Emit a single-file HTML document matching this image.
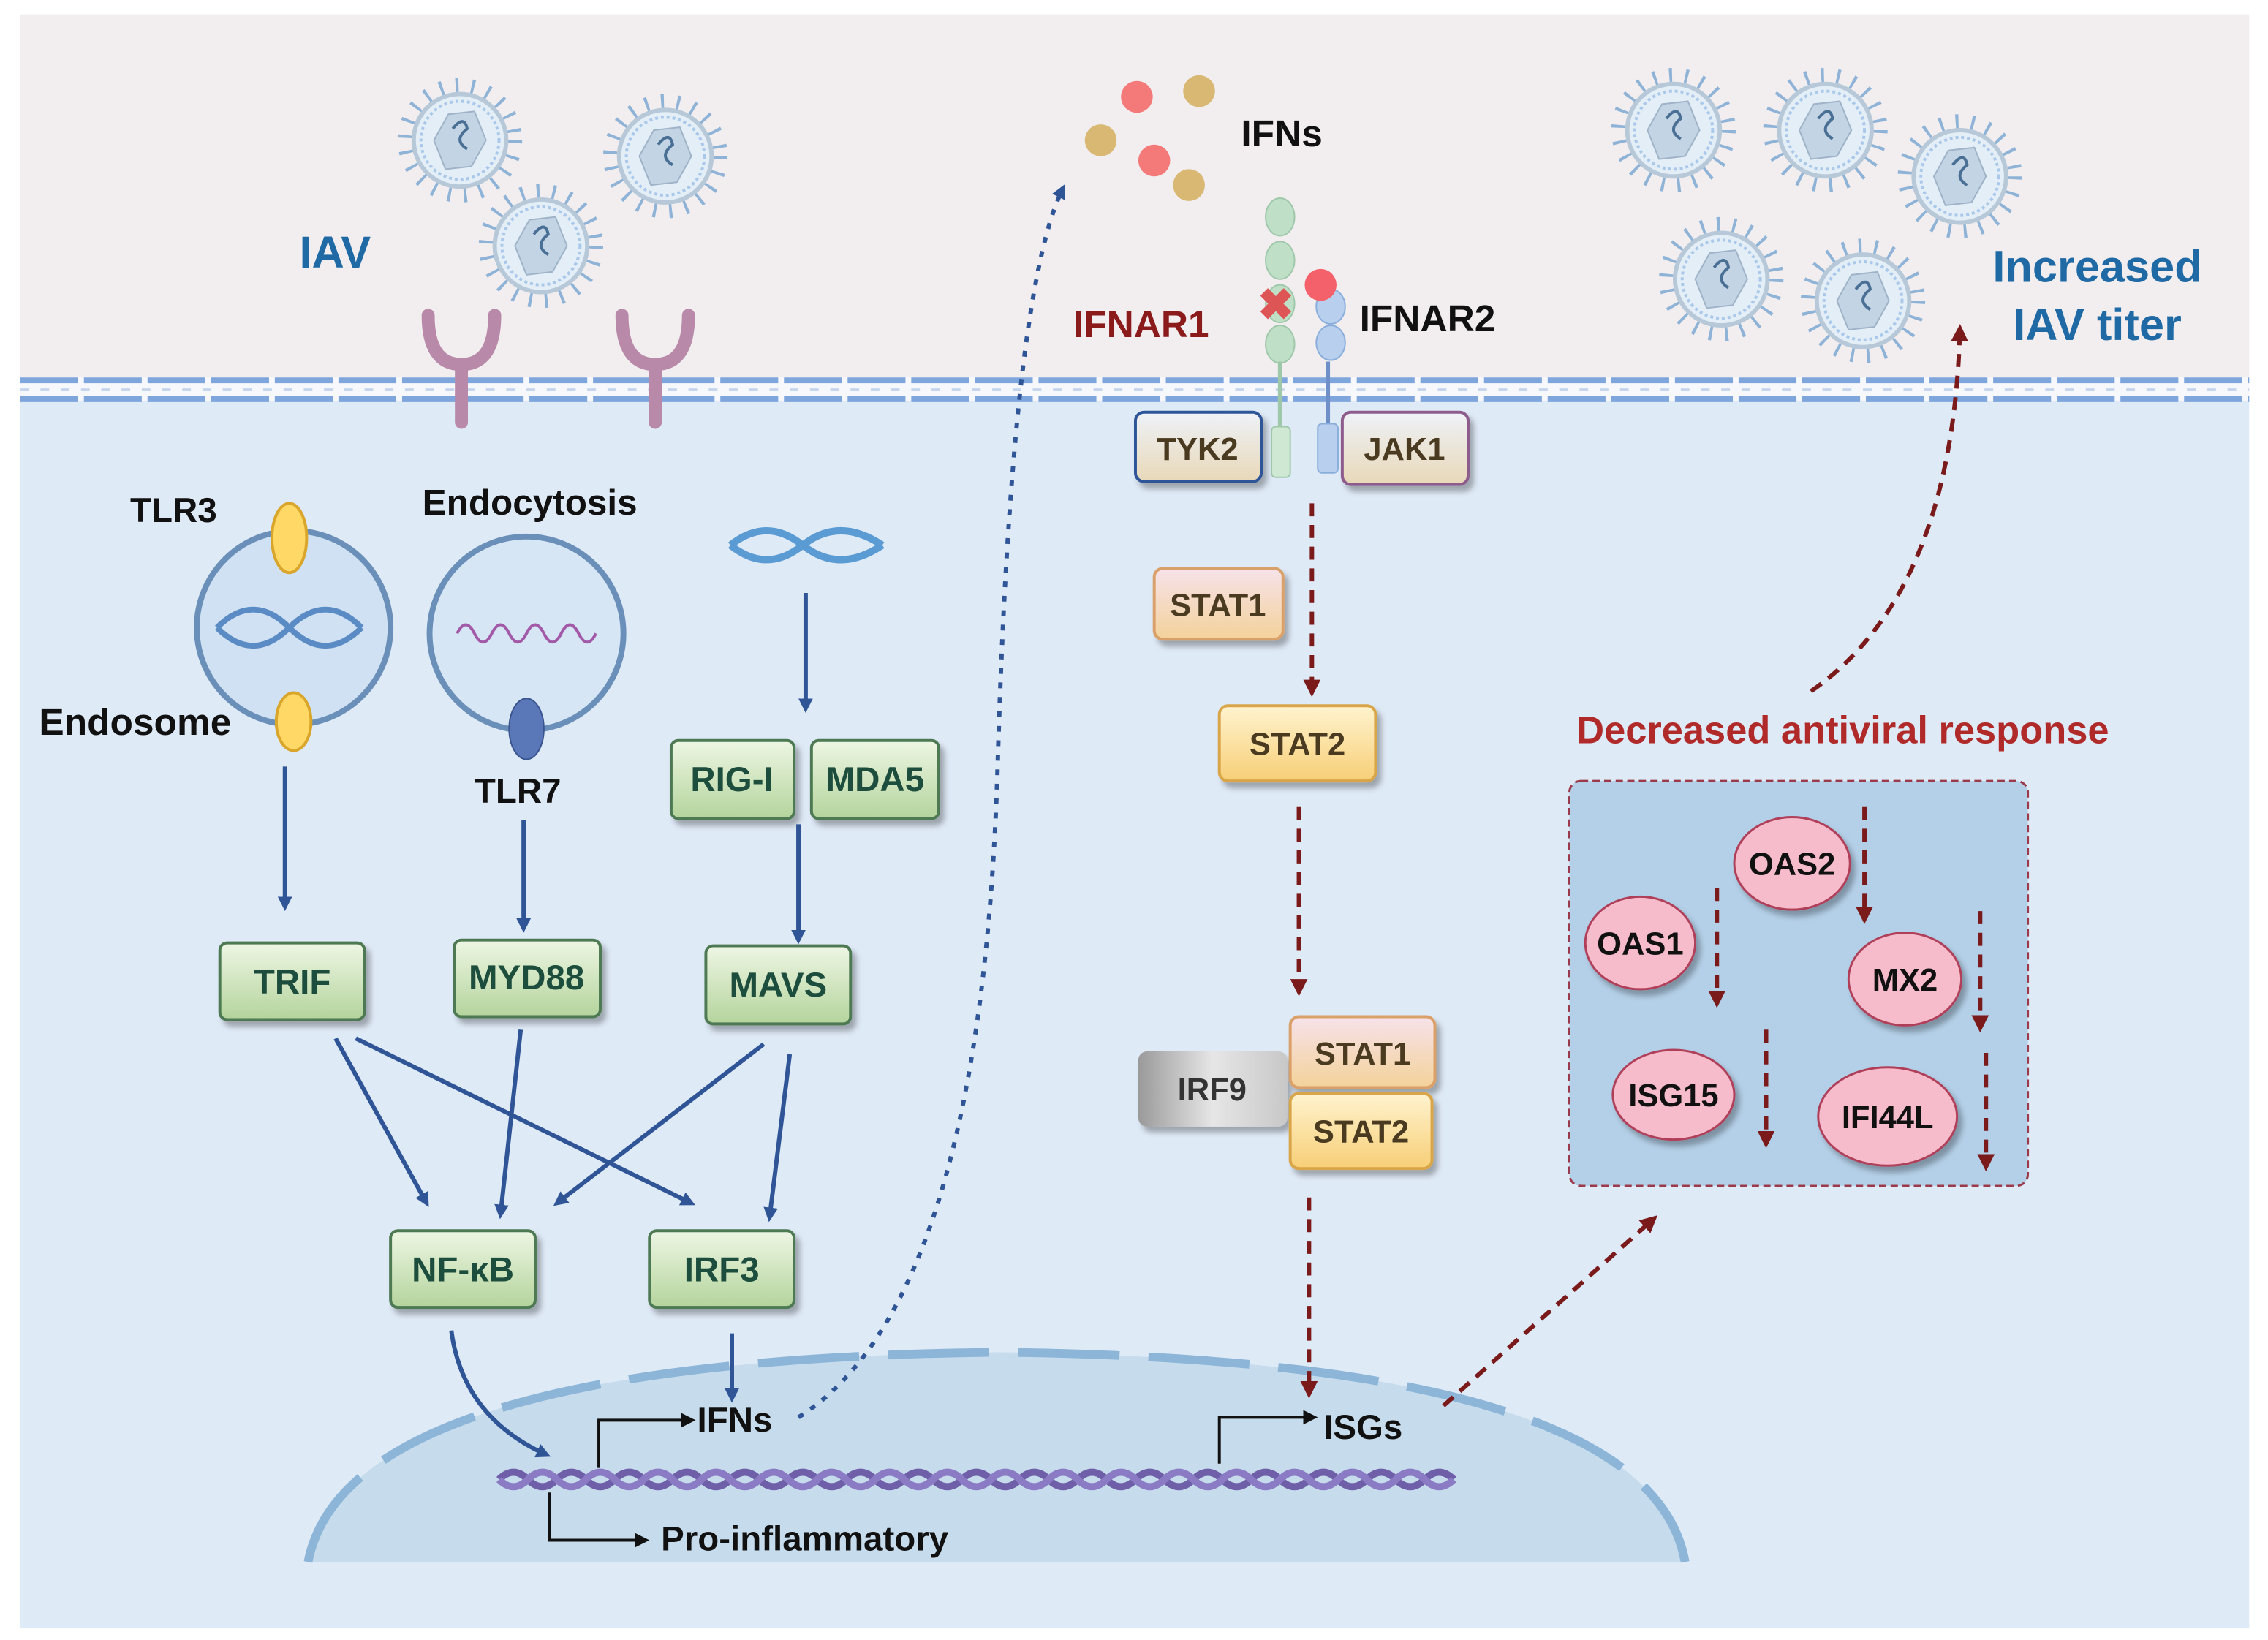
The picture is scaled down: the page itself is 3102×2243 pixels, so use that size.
<!DOCTYPE html>
<html><head><meta charset="utf-8"><style>
html,body{margin:0;padding:0;background:#fff}
svg{display:block}
text{font-family:"Liberation Sans",Arial,sans-serif;font-weight:bold}
</style></head><body>
<svg width="3102" height="2243" viewBox="0 0 1568 1134" preserveAspectRatio="none" xmlns="http://www.w3.org/2000/svg">
<defs>
<linearGradient id="g" x1="0" y1="0" x2="0" y2="1"><stop offset="0" stop-color="#eef6e4"/><stop offset="1" stop-color="#b4d49c"/></linearGradient>
<linearGradient id="y" x1="0" y1="0" x2="0" y2="1"><stop offset="0" stop-color="#fff3cf"/><stop offset="1" stop-color="#f7cf77"/></linearGradient>
<linearGradient id="p" x1="0" y1="0" x2="0" y2="1"><stop offset="0" stop-color="#f6e2ea"/><stop offset="1" stop-color="#f4d29a"/></linearGradient>
<linearGradient id="b" x1="0" y1="0" x2="0" y2="1"><stop offset="0" stop-color="#eef2f8"/><stop offset="1" stop-color="#e8d8b8"/></linearGradient>
<linearGradient id="gr" x1="0" y1="0" x2="1" y2="0"><stop offset="0" stop-color="#9a9a9a"/><stop offset="0.5" stop-color="#e6e6e6"/><stop offset="1" stop-color="#c8c8c8"/></linearGradient>
<filter id="sh" x="-10%" y="-10%" width="130%" height="140%"><feDropShadow dx="3" dy="4" stdDeviation="2" flood-color="#000" flood-opacity="0.3"/></filter>
<marker id="ab" markerWidth="10" markerHeight="10" refX="7" refY="5" orient="auto" markerUnits="userSpaceOnUse"><path d="M0,0 L10,5 L0,10 Z" fill="#2f5597"/></marker>
<marker id="ar" markerWidth="12" markerHeight="12" refX="8" refY="6" orient="auto" markerUnits="userSpaceOnUse"><path d="M0,0 L12,6 L0,12 Z" fill="#7b1a1a"/></marker>
<marker id="ak" markerWidth="10" markerHeight="10" refX="7" refY="5" orient="auto" markerUnits="userSpaceOnUse"><path d="M0,0 L10,5 L0,10 Z" fill="#111"/></marker>
<g id="v"><circle r="38" fill="none" stroke="#8fb3d6" stroke-width="10" stroke-dasharray="2 9"/><circle r="32" fill="#e3eef7" stroke="#b7c9d8" stroke-width="3"/><circle r="27" fill="none" stroke="#a9c8ea" stroke-width="2" stroke-dasharray="2 2"/><path d="M-8,-18 L10,-20 L18,0 L8,18 L-10,20 L-18,0 Z" fill="#c3d4e4" stroke="#9fb3c8"/><path d="M-5,-8 q8,-10 10,0 q-10,8 0,14" fill="none" stroke="#4a6f95" stroke-width="2"/></g>
</defs>
<rect x="14" y="10" width="1541" height="258" fill="#f2eef0"/>
<rect x="14" y="268" width="1541" height="858" fill="#dfeaf7"/>
<rect x="14" y="261" width="1541" height="16" fill="#f6f8fc"/>
<line x1="14" y1="263" x2="1555" y2="263" stroke="#7fa6dc" stroke-width="4" stroke-dasharray="40 4"/>
<line x1="14" y1="276" x2="1555" y2="276" stroke="#7fa6dc" stroke-width="4" stroke-dasharray="40 4"/>
<line x1="14" y1="269.5" x2="1555" y2="269.5" stroke="#c5d6ec" stroke-width="2" stroke-dasharray="6 8"/>
<path d="M213,1080 Q240,940 690,935 Q1140,940 1165,1080 Z" fill="#c6dced"/>
<path d="M213,1080 Q240,940 690,935 Q1140,940 1165,1080" fill="none" stroke="#8cb5d8" stroke-width="6" stroke-dasharray="70 20"/>
<use href="#v" x="318" y="97"/><use href="#v" x="460" y="108"/><use href="#v" x="374" y="170"/>
<use href="#v" x="1157" y="90"/><use href="#v" x="1262" y="90"/><use href="#v" x="1355" y="122"/><use href="#v" x="1190" y="193"/><use href="#v" x="1288" y="208"/>
<text x="207" y="185" font-size="31" fill="#1f6aa5">IAV</text>
<text x="1450" y="195" font-size="31" fill="#1f6aa5" text-anchor="middle">Increased</text>
<text x="1450" y="235" font-size="31" fill="#1f6aa5" text-anchor="middle">IAV titer</text>
<g fill="none" stroke="#b889a8" stroke-width="9" stroke-linecap="round"><path d="M296,218 Q296,252 319,252 Q342,252 342,218"/><line x1="319" y1="252" x2="319" y2="292"/><path d="M430,218 Q430,252 453,252 Q476,252 476,218"/><line x1="453" y1="252" x2="453" y2="292"/></g>
<circle cx="786" cy="67" r="11" fill="#f47a7a"/><circle cx="829" cy="63" r="11" fill="#d8b873"/><circle cx="761" cy="97" r="11" fill="#d8b873"/><circle cx="798" cy="111" r="11" fill="#f47a7a"/><circle cx="822" cy="128" r="11" fill="#d8b873"/>
<text x="858" y="101" font-size="26" fill="#111">IFNs</text>
<g fill="#bfe0c7" stroke="#9fc8aa"><ellipse cx="885" cy="150" rx="10" ry="13"/><ellipse cx="885" cy="180" rx="10" ry="13"/><ellipse cx="885" cy="210" rx="10" ry="13"/><ellipse cx="885" cy="238" rx="10" ry="13"/></g>
<line x1="885" y1="250" x2="885" y2="300" stroke="#9fc8aa" stroke-width="3"/><rect x="879" y="295" width="13" height="35" rx="3" fill="#cfe8d4" stroke="#9fc8aa"/>
<g fill="#b8d0ee" stroke="#8aaedc"><ellipse cx="920" cy="212" rx="10" ry="12"/><ellipse cx="920" cy="237" rx="10" ry="12"/></g>
<circle cx="913" cy="197" r="11" fill="#f4616b"/>
<line x1="918" y1="250" x2="918" y2="300" stroke="#6f8fc8" stroke-width="3"/><rect x="911" y="293" width="14" height="34" rx="3" fill="#b8d0ee" stroke="#8aaedc"/>
<text x="882" y="221" font-size="30" fill="#d55" text-anchor="middle">✖</text>
<text x="742" y="233" font-size="26" fill="#8b1a1a">IFNAR1</text>
<text x="940" y="229" font-size="26" fill="#111">IFNAR2</text>
<g filter="url(#sh)">
<rect x="785" y="285" width="87" height="48" rx="6" fill="url(#b)" stroke="#2f5597" stroke-width="2"/>
<rect x="928" y="285" width="87" height="50" rx="6" fill="url(#b)" stroke="#8d5b8d" stroke-width="2"/></g>
<text x="828" y="318" font-size="22" fill="#4a3a20" text-anchor="middle">TYK2</text>
<text x="971" y="318" font-size="22" fill="#4a3a20" text-anchor="middle">JAK1</text>
<circle cx="203" cy="434" r="67" fill="#cfe1f2" stroke="#6a8fb8" stroke-width="4"/>
<ellipse cx="200" cy="372" rx="12" ry="24" fill="#ffd866" stroke="#d9a52b" stroke-width="2"/><ellipse cx="203" cy="499" rx="12" ry="20" fill="#ffd866" stroke="#d9a52b" stroke-width="2"/>
<path d="M150,434 q25,-25 50,0 t50,0 M150,434 q25,25 50,0 t50,0" fill="none" stroke="#5b8bc4" stroke-width="4"/>
<circle cx="364" cy="438" r="67" fill="#d6e6f4" stroke="#6a8fb8" stroke-width="4"/>
<path d="M316,438 q6,-12 12,0 t12,0 t12,0 t12,0 t12,0 t12,0 t12,0 t12,0" fill="none" stroke="#a25aa8" stroke-width="2"/>
<ellipse cx="364" cy="504" rx="12" ry="21" fill="#5a77b8" stroke="#3a5590"/>
<path d="M505,377 q25,-20 50,0 t55,0 M505,377 q25,20 50,0 t55,0" fill="none" stroke="#5b9bd4" stroke-width="5"/>
<text x="90" y="361" font-size="24" fill="#111">TLR3</text>
<text x="292" y="356" font-size="25" fill="#111">Endocytosis</text>
<text x="27" y="508" font-size="26" fill="#111">Endosome</text>
<text x="328" y="555" font-size="24" fill="#111">TLR7</text>
<g stroke="#4e7a52" stroke-width="2" fill="url(#g)" filter="url(#sh)">
<rect x="152" y="652" width="100" height="53" rx="5"/><rect x="314" y="650" width="101" height="53" rx="5"/><rect x="488" y="654" width="100" height="54" rx="5"/>
<rect x="464" y="512" width="85" height="54" rx="5"/><rect x="561" y="512" width="88" height="54" rx="5"/>
<rect x="270" y="851" width="100" height="53" rx="5"/><rect x="449" y="851" width="100" height="53" rx="5"/></g>
<g font-size="24" fill="#1d4d3c" text-anchor="middle">
<text x="202" y="687">TRIF</text><text x="364" y="684">MYD88</text><text x="538" y="689">MAVS</text>
<text x="506" y="547">RIG-I</text><text x="605" y="547">MDA5</text><text x="320" y="886">NF-κB</text><text x="499" y="886">IRF3</text></g>
<g stroke="#2f5597" stroke-width="3" fill="none" marker-end="url(#ab)">
<line x1="197" y1="530" x2="197" y2="627"/><line x1="362" y1="567" x2="362" y2="642"/><line x1="557" y1="410" x2="557" y2="490"/><line x1="552" y1="570" x2="552" y2="650"/>
<line x1="232" y1="718" x2="295" y2="832"/><line x1="246" y1="718" x2="478" y2="832"/><line x1="360" y1="712" x2="346" y2="840"/>
<line x1="528" y1="722" x2="385" y2="832"/><line x1="546" y1="729" x2="532" y2="842"/>
<path d="M312,920 Q320,980 378,1006"/><line x1="506" y1="922" x2="506" y2="967"/></g>
<path d="M552,980 Q680,900 690,520 Q700,200 735,130" fill="none" stroke="#2f5597" stroke-width="3" stroke-dasharray="4 6" marker-end="url(#ab)"/>
<path d="M345,1023 q10,-10 20,0 t20,0 t20,0 t20,0 t20,0 t20,0 t20,0 t20,0 t20,0 t20,0 t20,0 t20,0 t20,0 t20,0 t20,0 t20,0 t20,0 t20,0 t20,0 t20,0 t20,0 t20,0 t20,0 t20,0 t20,0 t20,0 t20,0 t20,0 t20,0 t20,0 t20,0 t20,0 t20,0" fill="none" stroke="#6f5ea8" stroke-width="5"/>
<path d="M345,1023 q10,10 20,0 t20,0 t20,0 t20,0 t20,0 t20,0 t20,0 t20,0 t20,0 t20,0 t20,0 t20,0 t20,0 t20,0 t20,0 t20,0 t20,0 t20,0 t20,0 t20,0 t20,0 t20,0 t20,0 t20,0 t20,0 t20,0 t20,0 t20,0 t20,0 t20,0 t20,0 t20,0 t20,0" fill="none" stroke="#8a7bc4" stroke-width="5"/>
<g stroke="#111" stroke-width="2" fill="none" marker-end="url(#ak)">
<path d="M414,1015 V982 H478"/><path d="M380,1032 V1065 H446"/><path d="M843,1012 V980 H908"/></g>
<text x="482" y="990" font-size="24" fill="#111">IFNs</text>
<text x="457" y="1072" font-size="24" fill="#111">Pro-inflammatory</text>
<text x="915" y="995" font-size="24" fill="#111">ISGs</text>
<g filter="url(#sh)">
<rect x="798" y="393" width="89" height="49" rx="6" fill="url(#p)" stroke="#d9a06a" stroke-width="2"/>
<rect x="843" y="488" width="108" height="52" rx="6" fill="url(#y)" stroke="#d9a54a" stroke-width="2"/>
<rect x="787" y="727" width="103" height="52" rx="6" fill="url(#gr)"/>
<rect x="892" y="703" width="100" height="49" rx="6" fill="url(#p)" stroke="#d9a06a" stroke-width="2"/>
<rect x="892" y="756" width="98" height="52" rx="6" fill="url(#y)" stroke="#d9a54a" stroke-width="2"/></g>
<text x="842" y="426" font-size="22" fill="#4a3a20" text-anchor="middle">STAT1</text>
<text x="897" y="522" font-size="22" fill="#4a3a20" text-anchor="middle">STAT2</text>
<text x="838" y="761" font-size="22" fill="#333" text-anchor="middle">IRF9</text>
<text x="942" y="736" font-size="22" fill="#4a3a20" text-anchor="middle">STAT1</text>
<text x="941" y="790" font-size="22" fill="#4a3a20" text-anchor="middle">STAT2</text>
<g stroke="#7b1a1a" stroke-width="3" fill="none" stroke-dasharray="9 6" marker-end="url(#ar)">
<line x1="907" y1="348" x2="907" y2="478"/><line x1="898" y1="558" x2="898" y2="685"/><line x1="905" y1="828" x2="905" y2="963"/>
<line x1="998" y1="972" x2="1143" y2="843"/><path d="M1252,478 Q1350,410 1355,228"/>
<line x1="1187" y1="614" x2="1187" y2="693"/><line x1="1289" y1="558" x2="1289" y2="635"/><line x1="1369" y1="630" x2="1369" y2="710"/><line x1="1221" y1="712" x2="1221" y2="790"/><line x1="1373" y1="728" x2="1373" y2="806"/></g>
<text x="1274" y="514" font-size="26.5" fill="#b02a2a" text-anchor="middle">Decreased antiviral response</text>
<rect x="1085" y="540" width="317" height="280" rx="8" fill="#b4d0e8" stroke="#9b3a4a" stroke-width="1.5" stroke-dasharray="5 3"/>
<g fill="#f6bccb" stroke="#b0405a" stroke-width="1.5" filter="url(#sh)">
<ellipse cx="1239" cy="597" rx="40" ry="32"/><ellipse cx="1134" cy="652" rx="38" ry="32"/><ellipse cx="1317" cy="677" rx="39" ry="32"/><ellipse cx="1157" cy="757" rx="42" ry="31"/><ellipse cx="1305" cy="772" rx="48" ry="34"/></g>
<g stroke="#7b1a1a" stroke-width="3" fill="none" stroke-dasharray="9 6" marker-end="url(#ar)">
<line x1="1187" y1="614" x2="1187" y2="693"/><line x1="1289" y1="558" x2="1289" y2="635"/><line x1="1369" y1="630" x2="1369" y2="710"/><line x1="1221" y1="712" x2="1221" y2="790"/><line x1="1373" y1="728" x2="1373" y2="806"/></g>
<g font-size="22" fill="#111" text-anchor="middle">
<text x="1239" y="605">OAS2</text><text x="1134" y="660">OAS1</text><text x="1317" y="685">MX2</text><text x="1157" y="765">ISG15</text><text x="1305" y="780">IFI44L</text></g>
</svg>
</body></html>
